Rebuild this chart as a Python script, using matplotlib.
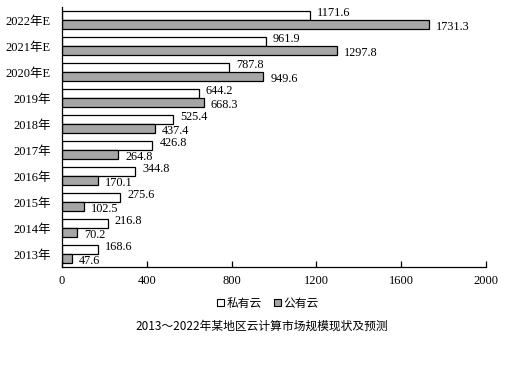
import matplotlib
matplotlib.use("Agg")
import matplotlib.pyplot as plt
import numpy as np
from matplotlib.patches import Patch

years = ["2013年", "2014年", "2015年", "2016年", "2017年", "2018年", "2019年", "2020年E", "2021年E", "2022年E"]
private_cloud = [168.6, 216.8, 275.6, 344.8, 426.8, 525.4, 644.2, 787.8, 961.9, 1171.6]
public_cloud = [47.6, 70.2, 102.5, 170.1, 264.8, 437.4, 668.3, 949.6, 1297.8, 1731.3]
xticks = [0, 400, 800, 1200, 1600, 2000]
title = "2013～2022年某地区云计算市场规模现状及预测"

serif = ["Liberation Serif", "Noto Sans CJK SC"]
sans = ["Noto Sans CJK SC", "DejaVu Sans"]

fig = plt.figure(figsize=(5.15, 3.65), dpi=100)
ax = fig.add_axes([62/515, 1-267/365, 424/515, 260/365])

y = np.arange(len(years))
h = 0.35
ax.barh(y + h/2, private_cloud, height=h, color="white", edgecolor="black", linewidth=0.9)
ax.barh(y - h/2, public_cloud, height=h, color="#a6a6a6", edgecolor="black", linewidth=0.9)

for yi, v in zip(y, private_cloud):
    ax.annotate(f"{v:.1f}", (v, yi + h/2 + 0.1), xytext=(5, 0), textcoords="offset points",
                va="center", ha="left", fontsize=8.8, family=serif)
for yi, v in zip(y, public_cloud):
    ax.annotate(f"{v:.1f}", (v, yi - h/2 - 0.08), xytext=(5, 0), textcoords="offset points",
                va="center", ha="left", fontsize=8.8, family=serif)

ax.set_xlim(0, 2000)
ax.set_ylim(-0.5, len(years) - 0.5)
ax.set_xticks(xticks)
ax.set_xticklabels([str(t) for t in xticks], family=serif, fontsize=9)
ax.set_yticks(y)
ax.set_yticklabels(years, family=serif, fontsize=9)
ax.tick_params(axis="y", length=0, pad=8)
ax.tick_params(axis="x", direction="in", length=4, width=0.9, pad=6)
for s in ["top", "right"]:
    ax.spines[s].set_visible(False)
for s in ["left", "bottom"]:
    ax.spines[s].set_linewidth(0.9)

handles = [Patch(facecolor="white", edgecolor="black", linewidth=0.8, label="私有云"),
           Patch(facecolor="#a6a6a6", edgecolor="black", linewidth=0.8, label="公有云")]
fig.legend(handles=handles, loc="center", bbox_to_anchor=(268/515, 1-303/365), ncol=2,
           frameon=False, prop={"family": sans, "size": 8.5}, handlelength=0.6, handleheight=0.6,
           handletextpad=0.2, columnspacing=1.0)
fig.text(262/515, 1-326/365, title, ha="center", va="center", fontsize=8.5, family=sans)

fig.savefig("out.png", dpi=100)
